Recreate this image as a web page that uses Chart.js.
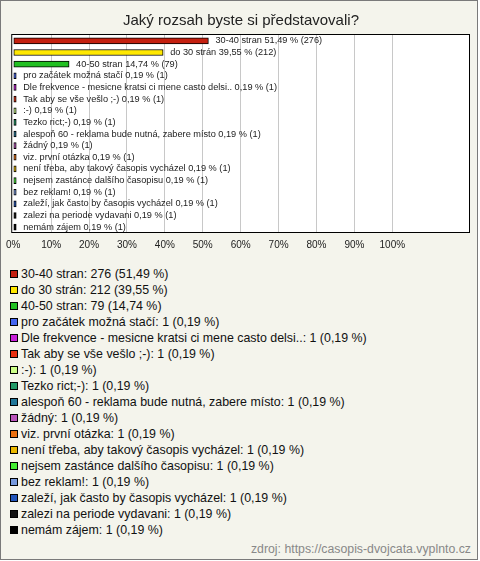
<!DOCTYPE html>
<html lang="cs">
<head>
    <meta charset="UTF-8">
    <title>Jaký rozsah byste si představovali?</title>
    <script src="https://cdn.jsdelivr.net/npm/chart.js"></script>
    <style>
        body { margin: 0; font-family: "Liberation Sans", Arial, sans-serif; }
        #frame {
            position: absolute; left: 0; top: 0;
            width: 478px; height: 560px; box-sizing: border-box;
            border: 1px solid #7a7a7a; background: #f4f4ec;
        }
        #myChart { position: absolute; left: 0; top: 0; }
        #legend { position: absolute; left: 10px; top: 266px; }
        .item { display: flex; align-items: center; height: 16px; font-size: 12.4px; color: #111; white-space: nowrap; }
        .box { width: 6px; height: 6px; border: 1px solid #000; margin-right: 3px; }
        #source { position: absolute; right: 9px; top: 542px; font-size: 12.3px; color: #888; }
    </style>
</head>
<body>
    <div id="frame"></div>
    <canvas id="myChart" width="480" height="262"></canvas>
    <div id="legend"></div>
    <div id="source">zdroj: https://casopis-dvojcata.vyplnto.cz</div>

    <script>
        // Data z ankety
        const categories = [
            '30-40 stran',
            'do 30 strán',
            '40-50 stran',
            'pro začátek možná stačí',
            'Dle frekvence - mesicne kratsi ci mene casto delsi..',
            'Tak aby se vše vešlo ;-)',
            ':-)',
            'Tezko rict;-)',
            'alespoň 60 - reklama bude nutná, zabere místo',
            'žádný',
            'viz. první otázka',
            'není třeba, aby takový časopis vycházel',
            'nejsem zastánce dalšího časopisu',
            'bez reklam!',
            'zaleží, jak často by časopis vycházel',
            'zalezi na periode vydavani',
            'nemám zájem'
        ];
        const counts = [276, 212, 79, 1, 1, 1, 1, 1, 1, 1, 1, 1, 1, 1, 1, 1, 1];
        const percents = [51.49, 39.55, 14.74, 0.19, 0.19, 0.19, 0.19, 0.19, 0.19, 0.19, 0.19, 0.19, 0.19, 0.19, 0.19, 0.19, 0.19];
        const colors = [
            '#c42010', '#ffe800', '#22c022', '#4466f0', '#c820d8', '#e83010',
            '#ccff88', '#229966', '#227799', '#bb55bb', '#ea7010', '#eab800',
            '#44ee33', '#7799dd', '#2255bb', '#111111', '#000000'
        ];
        const xTicks = [0, 10, 20, 30, 40, 50, 60, 70, 80, 90, 100];

        const fmt = v => v.toFixed(2).replace('.', ',');

        // Bílé pole grafu s černým rámečkem
        const plotBox = {
            id: 'plotBox',
            beforeDraw(chart) {
                const a = chart.chartArea;
                const c = chart.ctx;
                c.save();
                c.fillStyle = '#ffffff';
                c.fillRect(a.left - 2, a.top - 1, a.right - a.left + 2, a.bottom - a.top + 1);
                c.restore();
            },
            afterDraw(chart) {
                const a = chart.chartArea;
                const c = chart.ctx;
                c.save();
                c.strokeStyle = '#000000';
                c.lineWidth = 1;
                c.strokeRect(a.left - 1.5, a.top - 0.5, a.right - a.left + 1, a.bottom - a.top);
                c.restore();
            }
        };

        // Popisky vedle sloupců
        const barLabels = {
            id: 'barLabels',
            afterDatasetsDraw(chart) {
                const c = chart.ctx;
                const meta = chart.getDatasetMeta(0);
                c.save();
                c.font = '9.2px "Liberation Sans", Arial, sans-serif';
                c.fillStyle = '#222222';
                c.textBaseline = 'middle';
                meta.data.forEach((bar, i) => {
                    c.fillText(categories[i] + ' ' + fmt(percents[i]) + ' % (' + counts[i] + ')', bar.x + 7, bar.y);
                });
                c.restore();
            }
        };

        const ctx = document.getElementById('myChart').getContext('2d');
        const myChart = new Chart(ctx, {
            type: 'bar',
            data: {
                labels: categories,
                datasets: [{
                    data: percents,
                    backgroundColor: colors,
                    borderColor: '#000000',
                    borderWidth: 1,
                    borderSkipped: false,
                    barThickness: 6,
                    minBarLength: 3
                }]
            },
            options: {
                indexAxis: 'y',
                responsive: false,
                animation: false,
                layout: { padding: { left: 12, right: 10, top: 0, bottom: 5 } },
                plugins: {
                    legend: { display: false },
                    tooltip: { enabled: false },
                    title: {
                        display: true,
                        text: 'Jaký rozsah byste si představovali?',
                        color: '#222222',
                        font: { family: '"Liberation Sans", Arial, sans-serif', size: 15, weight: 'normal' },
                        padding: { top: 12, bottom: 5 }
                    }
                },
                scales: {
                    x: {
                        min: 0,
                        max: 120.5,
                        afterBuildTicks: scale => { scale.ticks = xTicks.map(v => ({ value: v })); },
                        border: { display: false },
                        grid: {
                            drawTicks: false,
                            color: c => (c.tick && c.tick.value === 0) ? 'rgba(0,0,0,0)' : '#c8c8c8'
                        },
                        ticks: {
                            autoSkip: false,
                            maxRotation: 0,
                            padding: 6,
                            color: '#222222',
                            font: { family: '"Liberation Sans", Arial, sans-serif', size: 10 },
                            callback: v => v + '%'
                        }
                    },
                    y: { display: false }
                }
            },
            plugins: [plotBox, barLabels]
        });

        // Legenda pod grafem
        const legend = document.getElementById('legend');
        categories.forEach((name, i) => {
            const row = document.createElement('div');
            row.className = 'item';
            const box = document.createElement('span');
            box.className = 'box';
            box.style.background = colors[i];
            row.appendChild(box);
            row.appendChild(document.createTextNode(name + ': ' + counts[i] + ' (' + fmt(percents[i]) + ' %)'));
            legend.appendChild(row);
        });
    </script>
</body>
</html>
